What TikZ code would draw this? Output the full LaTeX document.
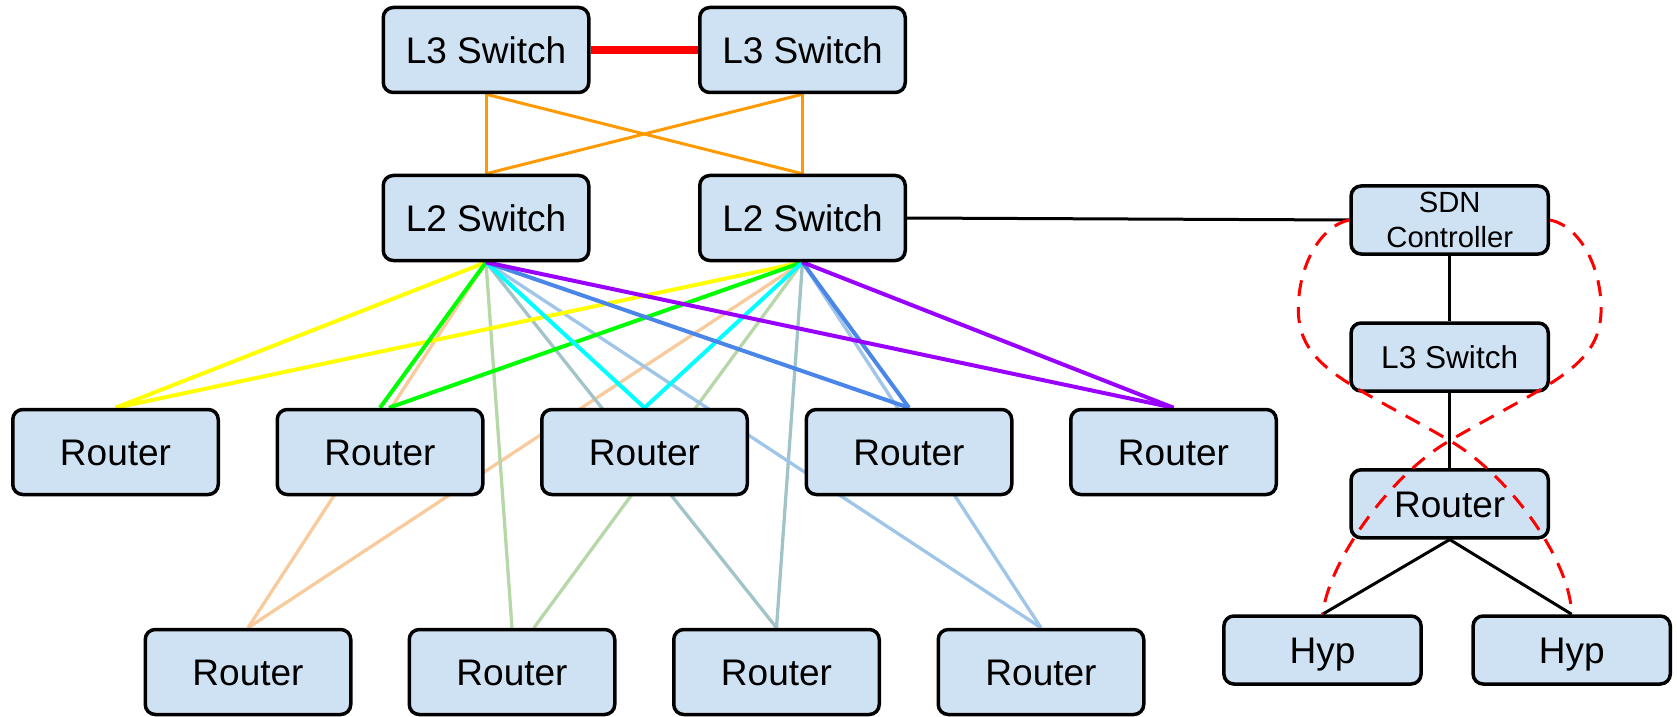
\documentclass[tikz,border=0pt]{standalone}
\usepackage{fontspec}
\setmainfont{Liberation Sans}
\usetikzlibrary{backgrounds}

\definecolor{boxfill}{HTML}{CFE2F3}
\definecolor{linkred}{HTML}{FF0000}
\definecolor{uplink}{HTML}{FF9900}
\definecolor{cYellow}{HTML}{FFFF00}
\definecolor{cGreen}{HTML}{00FF00}
\definecolor{cCyan}{HTML}{00FFFF}
\definecolor{cBlue}{HTML}{4A86E8}
\definecolor{cPurple}{HTML}{9900FF}
\definecolor{cPeach}{HTML}{F9CB9C}
\definecolor{cSage}{HTML}{B6D7A8}
\definecolor{cTeal}{HTML}{A2C4C9}
\definecolor{cSky}{HTML}{9FC5E8}

\begin{document}
\begin{tikzpicture}[x=0.5pt,y=-0.5pt,
  boxbase/.style={draw=black, line width=1.75pt, fill=boxfill, rounded corners=5pt,
    minimum width=102.75pt, minimum height=42.5pt, inner sep=0pt,
    font=\fontsize{18.5}{22}\selectfont},
  dev/.style={boxbase, text height=13.3pt, text depth=0pt},
  devsmall/.style={dev, minimum width=98.6pt, minimum height=34pt},
  ctrlbox/.style={boxbase, minimum width=98.6pt, minimum height=34pt, align=center,
    font=\fontsize{14.6}{17.8}\selectfont},
  fan/.style={line width=2pt},
  fanlight/.style={line width=1.65pt},
  wire/.style={draw=black, line width=1.5pt},
  ctrl/.style={draw=linkred, line width=1.5pt, dash pattern=on 8pt off 5.5pt}]

\useasboundingbox (0,0) rectangle (1677,717);

% core and distribution switches
\node[dev] (l3a) at (486,50) {L3 Switch};
\node[dev] (l3b) at (802.5,50) {L3 Switch};
\node[dev] (l2a) at (486,218) {L2 Switch};
\node[dev] (l2b) at (802.5,218) {L2 Switch};

% first row of routers
\node[dev] (r1) at (115.5,452) {Router};
\node[dev] (r2) at (380,452) {Router};
\node[dev] (r3) at (644.5,452) {Router};
\node[dev] (r4) at (909,452) {Router};
\node[dev] (r5) at (1173.5,452) {Router};

% second row of routers
\node[dev] (ra) at (248,672) {Router};
\node[dev] (rb) at (512,672) {Router};
\node[dev] (rc) at (776.5,672) {Router};
\node[dev] (rd) at (1041,672) {Router};

% SDN branch
\node[ctrlbox] (sdn) at (1449.7,220) {SDN\\Controller};
\node[devsmall, font=\fontsize{15.8}{19}\selectfont, text height=11.3pt] (l3c) at (1449.7,357) {L3 Switch};
\node[devsmall] (rr) at (1449.7,503.8) {Router};
\node[devsmall] (hypl) at (1322.5,650) {Hyp};
\node[devsmall] (hypr) at (1571.7,650) {Hyp};

\begin{scope}[on background layer]
  % core uplinks
  \draw[linkred, line width=3.6pt] (l3a.east) -- (l3b.west);
  \draw[uplink, line width=1.5pt] (l3a.south) -- (l2a.north);
  \draw[uplink, line width=1.5pt] (l3a.south) -- (l2b.north);
  \draw[uplink, line width=1.5pt] (l3b.south) -- (l2a.north);
  \draw[uplink, line width=1.5pt] (l3b.south) -- (l2b.north);

  % second row links (behind first row)
  \draw[fanlight, cPeach] (l2a.south) -- (ra.north);
  \draw[fanlight, cPeach] (l2b.south) -- (ra.north);
  \draw[fanlight, cSage] (l2a.south) -- (rb.north);
  \draw[fanlight, cSage] (l2b.south) -- ([xshift=11pt]rb.north);
  \draw[fanlight, cTeal] (l2a.south) -- (rc.north);
  \draw[fanlight, cTeal] (l2b.south) -- (rc.north);
  \draw[fanlight, cSky] (l2a.south) -- (rd.north);
  \draw[fanlight, cSky] (l2b.south) -- (rd.north);

  % first row links
  \draw[fan, cYellow] (l2a.south) -- (r1.north);
  \draw[fan, cYellow] (l2b.south) -- (r1.north);
  \draw[fan, cGreen] (l2a.south) -- (r2.north);
  \draw[fan, cGreen] (l2b.south) -- ([xshift=4.5pt]r2.north);
  \draw[fan, cCyan] (l2a.south) -- (r3.north);
  \draw[fan, cCyan] (l2b.south) -- (r3.north);
  \draw[fan, cBlue] (l2a.south) -- (r4.north);
  \draw[fan, cBlue] (l2b.south) -- (r4.north);
  \draw[fan, cPurple] (l2a.south) -- (r5.north);
  \draw[fan, cPurple] (l2b.south) -- (r5.north);

  % SDN branch wiring
  \draw[wire] (l2b.east) -- (sdn.west);
  \draw[wire] (sdn.south) -- (l3c.north);
  \draw[wire] (l3c.south) -- (rr.north);
  \draw[wire] (rr.south) -- (hypl.north);
  \draw[wire] (rr.south) -- (hypr.north);
\end{scope}

% control paths crossing below the L3 switch
\coordinate (loopL) at (1298.3,309.2);
\coordinate (loopR) at (1601.1,309.2);
\coordinate (cross) at (1449.7,440.6);
\draw[ctrl] (sdn.west) .. controls (1320,226) and (1298.3,266) .. (loopL)
  .. controls (1298.3,368) and (1351.7,383.6) .. (cross)
  .. controls (1509.7,475.6) and (1570,560) .. (hypr.north);
\draw[ctrl] (sdn.east) .. controls (1579.4,226) and (1601.1,266) .. (loopR)
  .. controls (1601.1,368) and (1547.7,383.6) .. (cross)
  .. controls (1389.7,475.6) and (1329.4,560) .. (hypl.north);

\end{tikzpicture}
\end{document}
